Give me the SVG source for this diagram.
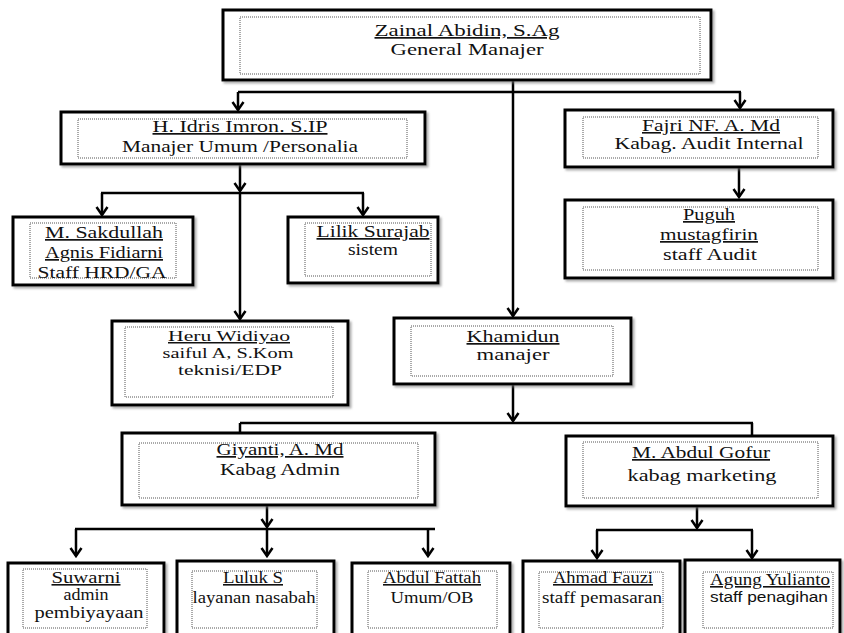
<svg xmlns="http://www.w3.org/2000/svg" width="844" height="633" viewBox="0 0 844 633">
<style>
.box{fill:#fff;stroke:#000;stroke-width:3;filter:url(#sh)}
.in{fill:none;stroke:#555;stroke-width:1;stroke-dasharray:1 1}
text{font-family:"Liberation Serif","Times New Roman",serif;font-size:17px;fill:#111;text-anchor:middle}
.sm{font-size:16px}
.xs{font-size:15px}
.u{text-decoration:underline}
.sans{font-family:"Liberation Sans",Arial,sans-serif;font-size:14px}
.c{fill:none;stroke:#000;stroke-width:2.5}
.a{marker-end:url(#arr)}
</style>
<defs>
<filter id="sh" x="-5%" y="-5%" width="110%" height="115%">
<feDropShadow dx="2" dy="2" stdDeviation="1" flood-color="#777" flood-opacity="0.6"/>
</filter>
<marker id="arr" viewBox="-10 -7 12 14" refX="0" refY="0" markerWidth="12" markerHeight="14" markerUnits="userSpaceOnUse" orient="auto">
<path d="M-8,-5.5 L0,0 L-8,5.5" fill="none" stroke="#000" stroke-width="2.5"/>
</marker>
</defs>
<rect width="844" height="633" fill="#fff"/>

<g id="connectors">
<line class="c a" x1="513" y1="80" x2="513" y2="316"/>
<line class="c" x1="238" y1="92" x2="741" y2="92"/>
<line class="c a" x1="238" y1="92" x2="238" y2="110"/>
<line class="c a" x1="740" y1="92" x2="740" y2="108"/>
<line class="c a" x1="739" y1="167" x2="739" y2="197"/>
<line class="c a" x1="240" y1="165" x2="240" y2="191"/>
<line class="c a" x1="240" y1="193" x2="240" y2="319"/>
<line class="c" x1="101" y1="193" x2="364" y2="193"/>
<line class="c a" x1="102" y1="193" x2="102" y2="215"/>
<line class="c a" x1="363" y1="193" x2="363" y2="215"/>
<line class="c a" x1="513" y1="384" x2="513" y2="421"/>
<line class="c" x1="240" y1="423" x2="753" y2="423"/>
<line class="c" x1="240" y1="423" x2="240" y2="433"/>
<line class="c" x1="752" y1="423" x2="752" y2="436"/>
<line class="c a" x1="267" y1="505" x2="267" y2="527"/>
<line class="c" x1="75" y1="529" x2="435" y2="529"/>
<line class="c a" x1="76" y1="529" x2="76" y2="556"/>
<line class="c a" x1="267" y1="529" x2="267" y2="556"/>
<line class="c a" x1="428" y1="529" x2="428" y2="556"/>
<line class="c a" x1="697" y1="506" x2="697" y2="528"/>
<line class="c" x1="596" y1="530" x2="753" y2="530"/>
<line class="c a" x1="597" y1="530" x2="597" y2="558"/>
<line class="c a" x1="752" y1="530" x2="752" y2="558"/>
</g>

<g id="n-gm">
<rect class="box" x="223" y="10" width="488" height="70"/>
<rect class="in" x="240" y="17" width="460" height="57"/>
<text class="u" x="467" y="36" font-size="18" textLength="185" lengthAdjust="spacingAndGlyphs">Zainal Abidin, S.Ag</text>
<text x="467" y="55" font-size="18" textLength="153" lengthAdjust="spacingAndGlyphs">General Manajer</text>
</g>

<g id="n-idris">
<rect class="box" x="61" y="112" width="364" height="52"/>
<rect class="in" x="78" y="119" width="329" height="39"/>
<text class="u" x="240" y="132" textLength="175" lengthAdjust="spacingAndGlyphs">H. Idris Imron. S.IP</text>
<text x="240" y="152" textLength="236" lengthAdjust="spacingAndGlyphs">Manajer Umum /Personalia</text>
</g>

<g id="n-fajri">
<rect class="box" x="565" y="110" width="268" height="57"/>
<rect class="in" x="583" y="117" width="235" height="41"/>
<text class="u sm" x="711" y="131" textLength="138" lengthAdjust="spacingAndGlyphs">Fajri NF. A. Md</text>
<text class="sm" x="709" y="149" textLength="189" lengthAdjust="spacingAndGlyphs">Kabag. Audit Internal</text>
</g>

<g id="n-puguh">
<rect class="box" x="565" y="200" width="268" height="78"/>
<rect class="in" x="583" y="207" width="235" height="63"/>
<text class="u" x="709" y="220" textLength="52" lengthAdjust="spacingAndGlyphs">Puguh</text>
<text class="u" x="709" y="240" textLength="98" lengthAdjust="spacingAndGlyphs">mustagfirin</text>
<text x="710" y="260" textLength="94" lengthAdjust="spacingAndGlyphs">staff Audit</text>
</g>

<g id="n-sakdullah">
<rect class="box" x="13" y="217" width="180" height="68"/>
<rect class="in" x="30" y="223" width="146" height="55"/>
<text class="u" x="104" y="238" textLength="118" lengthAdjust="spacingAndGlyphs">M. Sakdullah</text>
<text class="u" x="104" y="258" textLength="118" lengthAdjust="spacingAndGlyphs">Agnis Fidiarni</text>
<text x="102" y="278" textLength="129" lengthAdjust="spacingAndGlyphs">Staff HRD/GA</text>
</g>

<g id="n-lilik">
<rect class="box" x="288" y="217" width="150" height="66"/>
<rect class="in" x="305" y="223" width="126" height="53"/>
<text class="u" x="373" y="237" textLength="113" lengthAdjust="spacingAndGlyphs">Lilik Surajab</text>
<text x="373" y="255" textLength="50" lengthAdjust="spacingAndGlyphs">sistem</text>
</g>

<g id="n-heru">
<rect class="box" x="112" y="321" width="236" height="84"/>
<rect class="in" x="125" y="327" width="208" height="70"/>
<text class="u xs" x="229" y="341" textLength="122" lengthAdjust="spacingAndGlyphs">Heru Widiyao</text>
<text class="xs" x="228" y="358" textLength="131" lengthAdjust="spacingAndGlyphs">saiful A, S.Kom</text>
<text class="xs" x="230" y="375" textLength="104" lengthAdjust="spacingAndGlyphs">teknisi/EDP</text>
</g>

<g id="n-khamidun">
<rect class="box" x="394" y="318" width="237" height="66"/>
<rect class="in" x="411" y="326" width="202" height="50"/>
<text class="u" x="513" y="342" textLength="93" lengthAdjust="spacingAndGlyphs">Khamidun</text>
<text x="513" y="360" textLength="73" lengthAdjust="spacingAndGlyphs">manajer</text>
</g>

<g id="n-giyanti">
<rect class="box" x="122" y="433" width="313" height="72"/>
<rect class="in" x="139" y="443" width="279" height="55"/>
<text class="u" x="280" y="455" textLength="127" lengthAdjust="spacingAndGlyphs">Giyanti, A. Md</text>
<text x="280" y="475" textLength="120" lengthAdjust="spacingAndGlyphs">Kabag Admin</text>
</g>

<g id="n-gofur">
<rect class="box" x="566" y="436" width="267" height="70"/>
<rect class="in" x="583" y="442" width="235" height="56"/>
<text class="u" x="701" y="458" textLength="138" lengthAdjust="spacingAndGlyphs">M. Abdul Gofur</text>
<text x="702" y="481" textLength="149" lengthAdjust="spacingAndGlyphs">kabag marketing</text>
</g>

<g id="n-suwarni">
<rect class="box" x="8" y="563" width="156" height="80"/>
<rect class="in" x="23" y="569" width="124" height="59"/>
<text class="u sm" x="86" y="583" textLength="69" lengthAdjust="spacingAndGlyphs">Suwarni</text>
<text class="sm" x="86" y="600" textLength="45" lengthAdjust="spacingAndGlyphs">admin</text>
<text class="sm" x="89" y="618" textLength="109" lengthAdjust="spacingAndGlyphs">pembiyayaan</text>
</g>

<g id="n-luluk">
<rect class="box" x="177" y="561" width="157" height="82"/>
<rect class="in" x="192" y="571" width="125" height="57"/>
<text class="u sm" x="253" y="583" textLength="60" lengthAdjust="spacingAndGlyphs">Luluk S</text>
<text class="sm" x="254" y="603" textLength="123" lengthAdjust="spacingAndGlyphs">layanan nasabah</text>
</g>

<g id="n-fattah">
<rect class="box" x="352" y="563" width="158" height="80"/>
<rect class="in" x="368" y="571" width="129" height="57"/>
<text class="u sm" x="432" y="583" textLength="98" lengthAdjust="spacingAndGlyphs">Abdul Fattah</text>
<text class="sm" x="432" y="603" textLength="83" lengthAdjust="spacingAndGlyphs">Umum/OB</text>
</g>

<g id="n-ahmad">
<rect class="box" x="523" y="561" width="157" height="82"/>
<rect class="in" x="539" y="572" width="124" height="56"/>
<text class="u sm" x="603" y="583" textLength="100" lengthAdjust="spacingAndGlyphs">Ahmad Fauzi</text>
<text class="sm" x="602" y="603" textLength="120" lengthAdjust="spacingAndGlyphs">staff pemasaran</text>
</g>

<g id="n-agung">
<rect class="box" x="685" y="560" width="155" height="83"/>
<rect class="in" x="703" y="572" width="130" height="56"/>
<text class="u sm" x="770" y="585" textLength="120" lengthAdjust="spacingAndGlyphs">Agung Yulianto</text>
<text class="sans" x="769" y="602" textLength="118" lengthAdjust="spacingAndGlyphs">staff penagihan</text>
</g>
</svg>
